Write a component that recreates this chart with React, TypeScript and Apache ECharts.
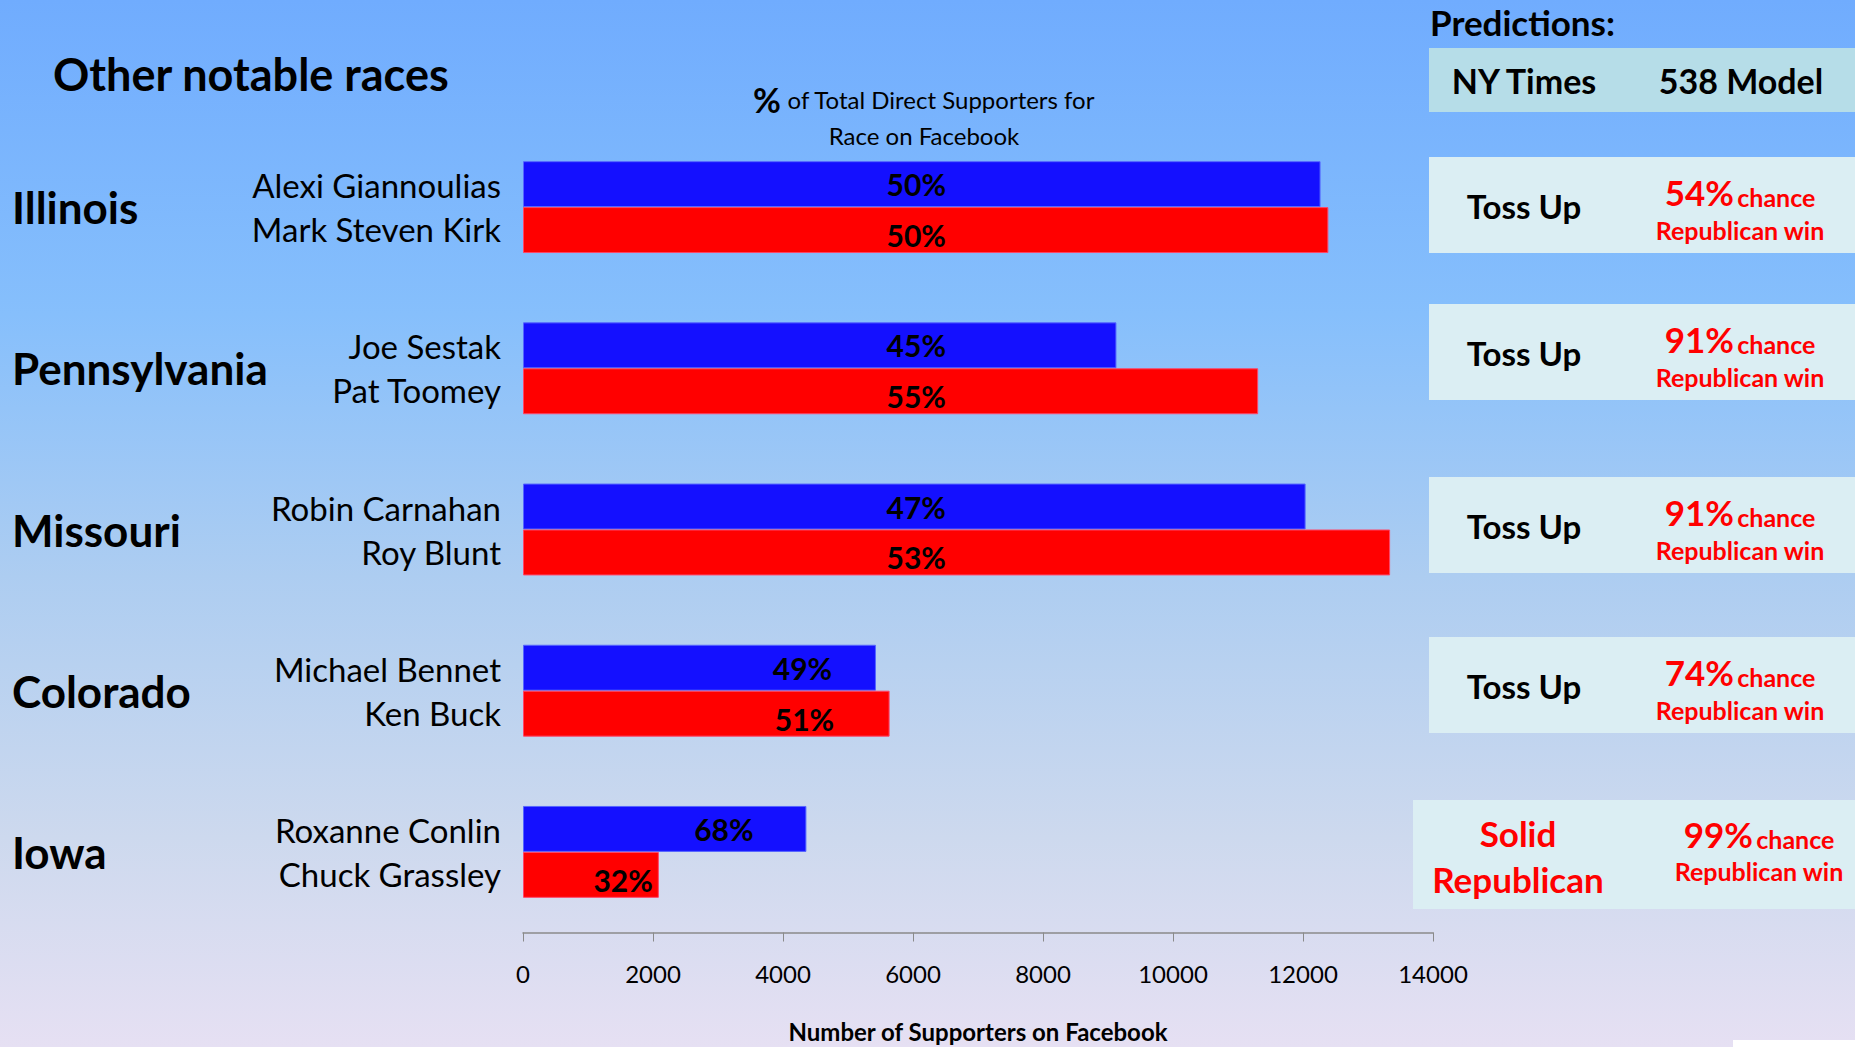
import React, { useEffect, useRef } from "react";
import * as echarts from "echarts";

// ---------- data ----------
const states = ["Illinois", "Pennsylvania", "Missouri", "Colorado", "Iowa"];
const demCandidates = ["Alexi Giannoulias", "Joe Sestak", "Robin Carnahan", "Michael Bennet", "Roxanne Conlin"];
const repCandidates = ["Mark Steven Kirk", "Pat Toomey", "Roy Blunt", "Ken Buck", "Chuck Grassley"];
const demSupporters = [12270, 9130, 12040, 5430, 4360];
const repSupporters = [12390, 11310, 13340, 5640, 2090];
const demShare = [50, 45, 47, 49, 68];
const repShare = [50, 55, 53, 51, 32];
// where (in supporter units) each share label sits
const demLabelAt = [6050, 6050, 6050, 4300, 3090];
const repLabelAt = [6050, 6050, 6050, 4330, 1540];
const xTicks = { min: 0, max: 14000, interval: 2000 };

const nytRatings = ["Toss Up", "Toss Up", "Toss Up", "Toss Up", "Solid\nRepublican"];
const fiveThirtyEightChance = [54, 91, 91, 74, 99];

// ---------- layout / style ----------
const FONT = "Lato, 'Noto Sans', sans-serif";
const RED = "#ff0000";
const rowBoxes = [
  { x: 1429, top: 157, h: 96, nytX: 1524, fteX: 1740 },
  { x: 1429, top: 304, h: 96, nytX: 1524, fteX: 1740 },
  { x: 1429, top: 477, h: 96, nytX: 1524, fteX: 1740 },
  { x: 1429, top: 637, h: 96, nytX: 1524, fteX: 1740 },
  { x: 1413, top: 800, h: 109, nytX: 1518, fteX: 1759 },
];

function buildGraphic() {
  const els: any[] = [];
  els.push({
    type: "text",
    x: 53,
    y: 74,
    style: { text: "Other notable races", fontSize: 45, fontWeight: "bold", fill: "#000", fontFamily: FONT, textVerticalAlign: "middle" },
  });
  els.push({
    type: "text",
    x: 924,
    y: 117,
    style: {
      text: "{p|%} of Total Direct Supporters for\nRace on Facebook",
      rich: { p: { fontSize: 34, fontWeight: "bold", fontFamily: FONT, fill: "#000" } },
      fontSize: 24,
      lineHeight: 36,
      fontFamily: FONT,
      fill: "#000",
      textAlign: "center",
      textVerticalAlign: "middle",
    },
  });
  els.push({
    type: "text",
    x: 1430,
    y: 22,
    style: { text: "Predictions:", fontSize: 35, fontWeight: "bold", fill: "#000", fontFamily: FONT, textVerticalAlign: "middle" },
  });
  els.push({ type: "rect", shape: { x: 1429, y: 48, width: 426, height: 64 }, style: { fill: "#b6dde8" } });
  els.push({
    type: "text",
    x: 1524,
    y: 80,
    style: { text: "NY Times", fontSize: 34, fontWeight: "bold", fill: "#000", fontFamily: FONT, textAlign: "center", textVerticalAlign: "middle" },
  });
  els.push({
    type: "text",
    x: 1741,
    y: 80,
    style: { text: "538 Model", fontSize: 34, fontWeight: "bold", fill: "#000", fontFamily: FONT, textAlign: "center", textVerticalAlign: "middle" },
  });
  rowBoxes.forEach((b, i) => {
    const solid = nytRatings[i].indexOf("Solid") === 0;
    els.push({ type: "rect", shape: { x: b.x, y: b.top, width: 1855 - b.x, height: b.h }, style: { fill: "#dbeef3" } });
    els.push({
      type: "text",
      x: b.nytX,
      y: b.top + b.h / 2 + 1,
      style: {
        text: nytRatings[i],
        fontSize: solid ? 35 : 33,
        lineHeight: 46,
        fontWeight: "bold",
        fill: solid ? RED : "#000",
        fontFamily: FONT,
        textAlign: "center",
        textVerticalAlign: "middle",
      },
    });
    els.push({
      type: "text",
      x: b.fteX,
      y: b.top + (solid ? 33 : 34),
      style: {
        text: "{big|" + fiveThirtyEightChance[i] + "%} {small|chance}",
        rich: {
          big: { fontSize: 35, fontWeight: "bold", fill: RED, fontFamily: FONT, verticalAlign: "bottom", lineHeight: 36 },
          small: { fontSize: 25, fontWeight: "bold", fill: RED, fontFamily: FONT, verticalAlign: "bottom", lineHeight: 31 },
        },
        textAlign: "center",
        textVerticalAlign: "middle",
      },
    });
    els.push({
      type: "text",
      x: b.fteX,
      y: b.top + (solid ? 71 : 73),
      style: {
        text: "Republican win",
        fontSize: 25,
        fontWeight: "bold",
        fill: RED,
        fontFamily: FONT,
        textAlign: "center",
        textVerticalAlign: "middle",
      },
    });
  });
  els.push({ type: "rect", shape: { x: 1733, y: 1040, width: 122, height: 7 }, style: { fill: "#ffffff" } });
  return els;
}

function labelPos(at: number, v: number) {
  return [((at / v) * 100).toFixed(2) + "%", "50%"];
}

export default function App() {
  const ref = useRef<HTMLDivElement>(null);
  useEffect(() => {
    const chart = echarts.init(ref.current!, null, { renderer: "svg" });
    const option: any = {
      animation: false,
      backgroundColor: {
        type: "linear",
        x: 0,
        y: 0,
        x2: 0,
        y2: 1,
        colorStops: [
          { offset: 0, color: "#70acfe" },
          { offset: 0.3, color: "#86bffc" },
          { offset: 0.55, color: "#adcdf1" },
          { offset: 0.8, color: "#cdd9ee" },
          { offset: 1, color: "#e6e0f3" },
        ],
      },
      textStyle: { fontFamily: FONT },
      grid: { left: 523, top: 126.5, width: 910, height: 806, containLabel: false, outerBoundsMode: "none" },
      xAxis: {
        type: "value",
        min: xTicks.min,
        max: xTicks.max,
        interval: xTicks.interval,
        axisLine: { show: true, lineStyle: { color: "#8a8a8a", width: 1.5 } },
        axisTick: { show: true, length: 9, lineStyle: { color: "#8a8a8a" } },
        splitLine: { show: false },
        axisLabel: { fontSize: 24, color: "#000", margin: 29, fontFamily: FONT, formatter: (v: number) => String(v) },
        name: "Number of Supporters on Facebook",
        nameLocation: "middle",
        nameGap: 85,
        nameTextStyle: { fontSize: 24, fontWeight: "bold", color: "#000", fontFamily: FONT, lineHeight: 28 },
      },
      yAxis: [
        {
          type: "category",
          data: states,
          inverse: true,
          position: "left",
          axisLine: { show: false },
          axisTick: { show: false },
          axisLabel: {
            interval: 0,
            formatter: (_v: string, i: number) => demCandidates[i] + "\n" + repCandidates[i],
            fontSize: 33,
            lineHeight: 44,
            color: "#000",
            align: "right",
            margin: 22,
            fontFamily: FONT,
          },
        },
        {
          type: "category",
          data: states,
          inverse: true,
          position: "left",
          axisLine: { show: false },
          axisTick: { show: false },
          axisLabel: {
            interval: 0,
            fontSize: 44,
            fontWeight: "bold",
            color: "#000",
            align: "left",
            margin: 511,
            fontFamily: FONT,
          },
        },
      ],
      series: [
        {
          type: "bar",
          name: "Democrat",
          yAxisIndex: 0,
          barGap: "0%",
          barCategoryGap: "43%",
          itemStyle: { color: "#1410ff", borderColor: "#5566ff", borderWidth: 1 },
          label: {
            show: true,
            formatter: (p: any) => demShare[p.dataIndex] + "%",
            fontSize: 30,
            fontWeight: "bold",
            color: "#000",
            align: "center",
            verticalAlign: "middle",
            fontFamily: FONT,
          },
          data: demSupporters.map((v, i) => ({ value: v, label: { position: labelPos(demLabelAt[i], v) } })),
        },
        {
          type: "bar",
          name: "Republican",
          yAxisIndex: 0,
          barGap: "0%",
          barCategoryGap: "43%",
          itemStyle: { color: "#ff0000", borderColor: "#ff4466", borderWidth: 1 },
          label: {
            show: true,
            formatter: (p: any) => repShare[p.dataIndex] + "%",
            fontSize: 30,
            fontWeight: "bold",
            color: "#000",
            align: "center",
            verticalAlign: "middle",
            offset: [0, 5],
            fontFamily: FONT,
          },
          data: repSupporters.map((v, i) => ({ value: v, label: { position: labelPos(repLabelAt[i], v) } })),
        },
      ],
      graphic: buildGraphic(),
    };
    chart.setOption(option);
    return () => chart.dispose();
  }, []);
  return <div ref={ref} style={{ position: "absolute", left: 0, top: 0, width: 1855, height: 1047 }} />;
}
